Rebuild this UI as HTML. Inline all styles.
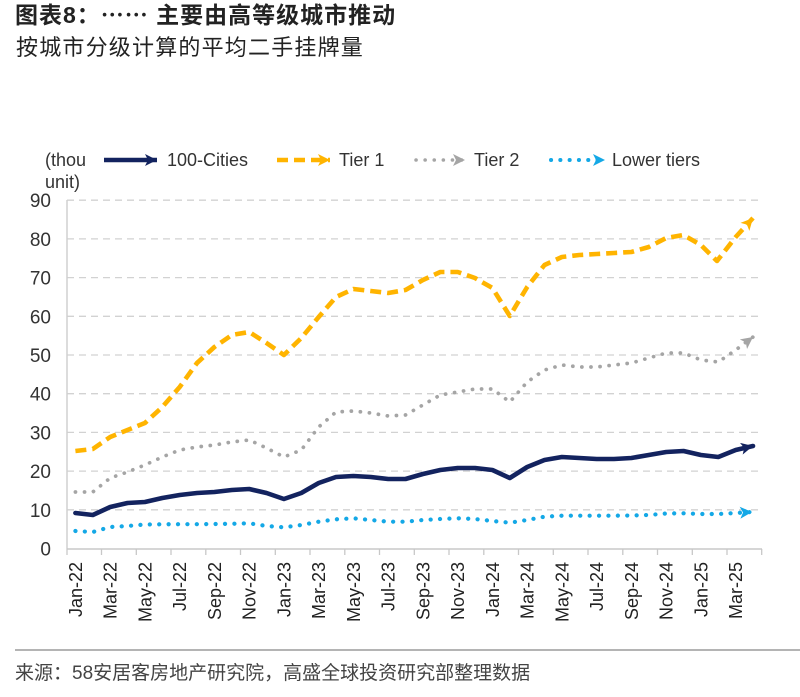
<!DOCTYPE html>
<html><head><meta charset="utf-8"><style>
html,body{margin:0;padding:0;background:#fff;}
svg{display:block;}
</style></head><body>
<svg width="800" height="697" viewBox="0 0 800 697" xmlns="http://www.w3.org/2000/svg">
<defs>
<marker id="aN" markerUnits="userSpaceOnUse" markerWidth="14" markerHeight="12" refX="12" refY="6" orient="auto"><path d="M0,0 L12,6 L0,12 L3,6 Z" fill="#13235f"/></marker>
<marker id="aY" markerUnits="userSpaceOnUse" markerWidth="14" markerHeight="12" refX="12" refY="6" orient="auto"><path d="M0,0 L12,6 L0,12 L3,6 Z" fill="#ffb400"/></marker>
<marker id="aG" markerUnits="userSpaceOnUse" markerWidth="14" markerHeight="12" refX="12" refY="6" orient="auto"><path d="M0,0 L12,6 L0,12 L3,6 Z" fill="#a5a5a5"/></marker>
<marker id="aB" markerUnits="userSpaceOnUse" markerWidth="14" markerHeight="12" refX="12" refY="6" orient="auto"><path d="M0,0 L12,6 L0,12 L3,6 Z" fill="#14a8e6"/></marker>
</defs>

<!-- Titles -->
<text x="15" y="23" font-family="'Liberation Sans','Noto Sans CJK SC',sans-serif" font-size="23" font-weight="bold" fill="#222" letter-spacing="1">图表8：<tspan font-family="'Noto Sans CJK SC',sans-serif">……</tspan> 主要由高等级城市推动</text>
<text x="16" y="55" font-family="'Liberation Sans','Noto Sans CJK SC',sans-serif" font-size="22" fill="#222" letter-spacing="1.2">按城市分级计算的平均二手挂牌量</text>

<!-- Legend -->
<g font-family="'Liberation Sans',sans-serif" font-size="18" fill="#333">
<text x="45" y="166">(thou</text>
<text x="45" y="188">unit)</text>
<line x1="104" y1="160" x2="157" y2="160" stroke="#13235f" stroke-width="4.5" marker-end="url(#aN)"/>
<text x="167" y="166">100-Cities</text>
<line x1="277" y1="160" x2="330" y2="160" stroke="#ffb400" stroke-width="4.5" stroke-dasharray="11 6" marker-end="url(#aY)"/>
<text x="339" y="166">Tier 1</text>
<line x1="416" y1="160" x2="465" y2="160" stroke="#a5a5a5" stroke-width="3.5" stroke-linecap="round" stroke-dasharray="0.1 9" marker-end="url(#aG)"/>
<text x="474" y="166">Tier 2</text>
<line x1="551" y1="160" x2="605" y2="160" stroke="#14a8e6" stroke-width="4" stroke-linecap="round" stroke-dasharray="0.1 9.2" marker-end="url(#aB)"/>
<text x="612" y="166">Lower tiers</text>
</g>

<!-- Gridlines -->
<g stroke="#d2d2d2" stroke-width="1.3" stroke-dasharray="7 5">
<line x1="67" y1="509.8" x2="758" y2="509.8"/>
<line x1="67" y1="471.1" x2="758" y2="471.1"/>
<line x1="67" y1="432.4" x2="758" y2="432.4"/>
<line x1="67" y1="393.7" x2="758" y2="393.7"/>
<line x1="67" y1="355" x2="758" y2="355"/>
<line x1="67" y1="316.3" x2="758" y2="316.3"/>
<line x1="67" y1="277.6" x2="758" y2="277.6"/>
<line x1="67" y1="238.9" x2="758" y2="238.9"/>
<line x1="67" y1="200.2" x2="758" y2="200.2"/>
</g>

<!-- Axes -->
<line x1="67" y1="200" x2="67" y2="549" stroke="#d0d0d0" stroke-width="1.5"/>
<line x1="67" y1="549" x2="762" y2="549" stroke="#c8c8c8" stroke-width="1.5"/>
<g stroke="#c8c8c8" stroke-width="1.3">
<line x1="67" y1="549" x2="67" y2="555"/>
<line x1="101.5" y1="549" x2="101.5" y2="555"/>
<line x1="136.3" y1="549" x2="136.3" y2="555"/>
<line x1="171" y1="549" x2="171" y2="555"/>
<line x1="205.8" y1="549" x2="205.8" y2="555"/>
<line x1="240.5" y1="549" x2="240.5" y2="555"/>
<line x1="275.3" y1="549" x2="275.3" y2="555"/>
<line x1="310" y1="549" x2="310" y2="555"/>
<line x1="344.8" y1="549" x2="344.8" y2="555"/>
<line x1="379.5" y1="549" x2="379.5" y2="555"/>
<line x1="414.3" y1="549" x2="414.3" y2="555"/>
<line x1="449" y1="549" x2="449" y2="555"/>
<line x1="483.8" y1="549" x2="483.8" y2="555"/>
<line x1="518.5" y1="549" x2="518.5" y2="555"/>
<line x1="553.3" y1="549" x2="553.3" y2="555"/>
<line x1="588" y1="549" x2="588" y2="555"/>
<line x1="622.8" y1="549" x2="622.8" y2="555"/>
<line x1="657.5" y1="549" x2="657.5" y2="555"/>
<line x1="692.3" y1="549" x2="692.3" y2="555"/>
<line x1="727" y1="549" x2="727" y2="555"/>
<line x1="761.7" y1="549" x2="761.7" y2="555"/>
</g>

<!-- Y labels -->
<g font-family="'Liberation Sans',sans-serif" font-size="19" fill="#333" text-anchor="end">
<text x="51" y="555.5">0</text>
<text x="51" y="516.8">10</text>
<text x="51" y="478.1">20</text>
<text x="51" y="439.4">30</text>
<text x="51" y="400.7">40</text>
<text x="51" y="362">50</text>
<text x="51" y="323.3">60</text>
<text x="51" y="284.6">70</text>
<text x="51" y="245.9">80</text>
<text x="51" y="207.2">90</text>
</g>

<!-- X labels -->
<g font-family="'Liberation Sans',sans-serif" font-size="18" fill="#222" text-anchor="end">
<text transform="translate(81.8,562) rotate(-90)">Jan-22</text>
<text transform="translate(116.6,562) rotate(-90)">Mar-22</text>
<text transform="translate(151.3,562) rotate(-90)">May-22</text>
<text transform="translate(186.1,562) rotate(-90)">Jul-22</text>
<text transform="translate(220.8,562) rotate(-90)">Sep-22</text>
<text transform="translate(255.6,562) rotate(-90)">Nov-22</text>
<text transform="translate(290.3,562) rotate(-90)">Jan-23</text>
<text transform="translate(325.1,562) rotate(-90)">Mar-23</text>
<text transform="translate(359.8,562) rotate(-90)">May-23</text>
<text transform="translate(394.6,562) rotate(-90)">Jul-23</text>
<text transform="translate(429.3,562) rotate(-90)">Sep-23</text>
<text transform="translate(464.1,562) rotate(-90)">Nov-23</text>
<text transform="translate(498.8,562) rotate(-90)">Jan-24</text>
<text transform="translate(533.6,562) rotate(-90)">Mar-24</text>
<text transform="translate(568.3,562) rotate(-90)">May-24</text>
<text transform="translate(603.1,562) rotate(-90)">Jul-24</text>
<text transform="translate(637.8,562) rotate(-90)">Sep-24</text>
<text transform="translate(672.6,562) rotate(-90)">Nov-24</text>
<text transform="translate(707.3,562) rotate(-90)">Jan-25</text>
<text transform="translate(742.1,562) rotate(-90)">Mar-25</text>
</g>

<!-- Series -->
<g fill="none" stroke-linejoin="round">
<!-- Lower tiers -->
<polyline stroke="#14a8e6" stroke-width="4.2" stroke-linecap="round" stroke-dasharray="0.1 9.3" marker-end="url(#aB)"
points="75.4,531 92.8,532 110.2,527 127.5,526 144.9,524.5 162.3,524.3 179.7,524.2 197,524.2 214.4,524 231.8,523.8 249.2,523.3 266.5,526 283.9,527.3 301.3,525 318.7,521.7 336,519.3 353.4,518.3 370.8,520 388.2,521.7 405.5,521.7 422.9,520 440.3,519 457.7,518.3 475,519 492.4,521 509.8,522.7 527.2,520 544.5,516.7 561.9,515.7 579.3,515.7 596.7,515.7 614,515.7 631.4,515.5 648.8,515 666.2,513.5 683.5,513.3 700.9,514 718.3,514 735.7,513 752,512"/>
<!-- Tier 2 -->
<polyline stroke="#a5a5a5" stroke-width="3.7" stroke-linecap="round" stroke-dasharray="0.1 9" marker-end="url(#aG)"
points="75.4,492 92.8,492 110.2,478 127.5,472 144.9,465 162.3,457 179.7,450 197,447 214.4,445 231.8,442 249.2,440 266.5,448 283.9,457 301.3,450 318.7,427 336,412 353.4,411 370.8,413 388.2,416 405.5,415 422.9,405 440.3,395 457.7,392 475,389 492.4,389 509.8,402 527.2,382 544.5,370 561.9,365 579.3,367 596.7,367 614,365 631.4,363 648.8,358 666.2,353 683.5,353 700.9,360 718.3,362 735.7,350 753,337"/>
<!-- 100 Cities -->
<polyline stroke="#13235f" stroke-width="4.6" stroke-linecap="round" marker-end="url(#aN)"
points="75.4,513 92.8,515 110.2,507 127.5,503 144.9,502 162.3,498 179.7,495 197,493 214.4,492 231.8,490 249.2,489 266.5,493 283.9,499 301.3,493 318.7,483 336,477 353.4,476 370.8,477 388.2,479 405.5,479 422.9,474 440.3,470 457.7,468 475,468 492.4,470 509.8,478 527.2,467 544.5,460 561.9,457 579.3,458 596.7,459 614,459 631.4,458 648.8,455 666.2,452 683.5,451 700.9,455 718.3,457 735.7,450 753,446"/>
<!-- Tier 1 -->
<polyline stroke="#ffb400" stroke-width="4.6" stroke-dasharray="11 6" marker-end="url(#aY)"
points="75.4,451 92.8,449 110.2,437 127.5,430 144.9,423 162.3,407 179.7,387 197,363 214.4,347 231.8,335 249.2,332 266.5,343 283.9,355 301.3,338 318.7,317 336,297 353.4,289 370.8,291 388.2,293 405.5,290 422.9,280 440.3,272 457.7,272 475,278 492.4,288 509.8,316 527.2,287 544.5,265 561.9,257 579.3,255 596.7,254 614,253 631.4,252 648.8,247 666.2,238 683.5,235 700.9,245 717,261 735.7,237 753,218"/>
</g>

<!-- Footer -->
<line x1="15" y1="650" x2="800" y2="650" stroke="#888" stroke-width="1.2"/>
<text x="15" y="679" font-family="'Liberation Sans','Noto Sans CJK SC',sans-serif" font-size="19" fill="#444">来源：58安居客房地产研究院，高盛全球投资研究部整理数据</text>
</svg>
</body></html>
